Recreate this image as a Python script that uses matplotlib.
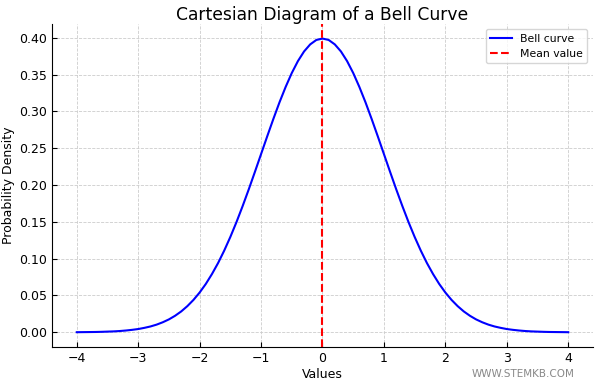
import matplotlib.pyplot as plt

# values (every 0.1 along x)
x_vals = [-4.0, -3.9, -3.8, -3.7, -3.6, -3.5, -3.4, -3.3, -3.2, -3.1,
          -3.0, -2.9, -2.8, -2.7, -2.6, -2.5, -2.4, -2.3, -2.2, -2.1,
          -2.0, -1.9, -1.8, -1.7, -1.6, -1.5, -1.4, -1.3, -1.2, -1.1,
          -1.0, -0.9, -0.8, -0.7, -0.6, -0.5, -0.4, -0.3, -0.2, -0.1,
          0.0,
          0.1, 0.2, 0.3, 0.4, 0.5, 0.6, 0.7, 0.8, 0.9, 1.0,
          1.1, 1.2, 1.3, 1.4, 1.5, 1.6, 1.7, 1.8, 1.9, 2.0,
          2.1, 2.2, 2.3, 2.4, 2.5, 2.6, 2.7, 2.8, 2.9, 3.0,
          3.1, 3.2, 3.3, 3.4, 3.5, 3.6, 3.7, 3.8, 3.9, 4.0]
y_vals = [0.0001, 0.0002, 0.0003, 0.0004, 0.0006, 0.0009, 0.0012, 0.0017, 0.0024, 0.0033,
          0.0044, 0.0060, 0.0079, 0.0104, 0.0136, 0.0175, 0.0224, 0.0283, 0.0355, 0.0440,
          0.0540, 0.0656, 0.0790, 0.0940, 0.1109, 0.1295, 0.1497, 0.1714, 0.1942, 0.2179,
          0.2420, 0.2661, 0.2897, 0.3123, 0.3332, 0.3521, 0.3683, 0.3814, 0.3910, 0.3970,
          0.3989,
          0.3970, 0.3910, 0.3814, 0.3683, 0.3521, 0.3332, 0.3123, 0.2897, 0.2661, 0.2420,
          0.2179, 0.1942, 0.1714, 0.1497, 0.1295, 0.1109, 0.0940, 0.0790, 0.0656, 0.0540,
          0.0440, 0.0355, 0.0283, 0.0224, 0.0175, 0.0136, 0.0104, 0.0079, 0.0060, 0.0044,
          0.0033, 0.0024, 0.0017, 0.0012, 0.0009, 0.0006, 0.0004, 0.0003, 0.0002, 0.0001]
mean_val = 0.0

fig, ax = plt.subplots(figsize=(6, 3.85), dpi=100)
fig.subplots_adjust(left=0.087, right=0.988, top=0.938, bottom=0.099)

ax.plot(x_vals, y_vals, color='blue', lw=1.5, label='Bell curve')
ax.axvline(mean_val, color='red', ls='--', lw=1.5, label='Mean value')

ax.set_title('Cartesian Diagram of a Bell Curve', fontsize=12.3, pad=3)
ax.set_xlabel('Values', fontsize=9, labelpad=2)
ax.set_ylabel('Probability Density', fontsize=9, labelpad=3)
ax.set_yticks([0.0, 0.05, 0.1, 0.15, 0.2, 0.25, 0.3, 0.35, 0.4])
ax.yaxis.set_major_formatter(plt.FormatStrFormatter('%.2f'))
ax.tick_params(direction='in', labelsize=9)
ax.grid(True, ls='--', lw=0.6, color='#cccccc')
for s in ['top', 'right']:
    ax.spines[s].set_visible(False)
ax.legend(loc='upper right', fontsize=7.8)

fig.text(0.958, 0.015, 'WWW.STEMKB.COM', ha='right', va='bottom', fontsize=7.5, color='#888888')

fig.savefig('out.png')
